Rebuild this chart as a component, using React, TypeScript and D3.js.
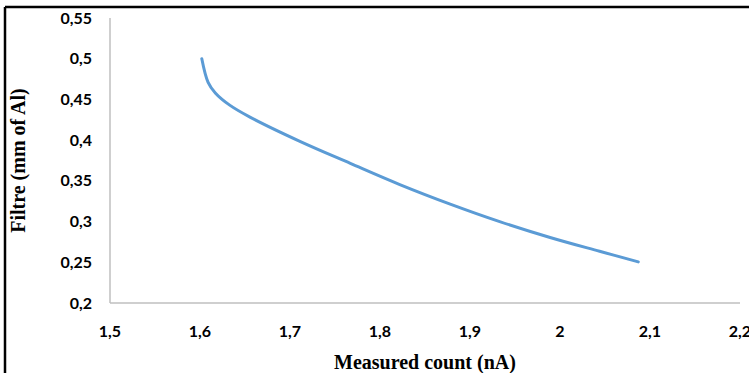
import React, { useEffect, useRef } from 'react'
import * as d3 from 'd3'

const countX = [1.602, 1.609, 1.617, 1.633, 1.656, 1.711, 1.767, 1.822, 1.878, 1.933, 1.989, 2.044, 2.087]
const filtreY = [0.5, 0.471, 0.458, 0.443, 0.428, 0.3985, 0.3715, 0.3455, 0.3215, 0.3, 0.2805, 0.2635, 0.2505]
const xTicks = [1.5, 1.6, 1.7, 1.8, 1.9, 2, 2.1, 2.2]
const yTicks = [0.2, 0.25, 0.3, 0.35, 0.4, 0.45, 0.5, 0.55]

const width = 749, height = 373
const margin = { top: 18, right: 9, bottom: 70, left: 110 }

const fmt = (v: number) => String(+v.toFixed(2)).replace('.', ',')

export default function App() {
  const ref = useRef<SVGSVGElement>(null)

  useEffect(() => {
    const svg = d3.select(ref.current)
    svg.selectAll('*').remove()

    const x = d3.scaleLinear().domain([1.5, 2.2]).range([margin.left, width - margin.right])
    const y = d3.scaleLinear().domain([0.2, 0.55]).range([height - margin.bottom, margin.top])

    // frame (top and left only)
    svg.append('line').attr('x1', 5).attr('x2', width).attr('y1', 7).attr('y2', 7)
      .attr('stroke', '#000').attr('stroke-width', 2.5)
    svg.append('line').attr('x1', 5).attr('x2', 5).attr('y1', 7).attr('y2', height)
      .attr('stroke', '#000').attr('stroke-width', 2.5)

    // axes
    svg.append('line')
      .attr('x1', x(1.5)).attr('x2', x(1.5)).attr('y1', y(0.55)).attr('y2', y(0.2))
      .attr('stroke', '#bfbfbf').attr('stroke-width', 1.5)
    svg.append('line')
      .attr('x1', x(1.5)).attr('x2', x(2.2)).attr('y1', y(0.2)).attr('y2', y(0.2))
      .attr('stroke', '#bfbfbf').attr('stroke-width', 1.5)

    svg.append('g')
      .selectAll('text')
      .data(yTicks)
      .join('text')
      .attr('x', margin.left - 18)
      .attr('y', d => y(d))
      .attr('dy', '0.35em')
      .attr('text-anchor', 'end')
      .style('font-family', 'Lato, "Open Sans", sans-serif')
      .style('font-weight', 'bold')
      .style('font-size', '16px')
      .text(d => fmt(d))

    svg.append('g')
      .selectAll('text')
      .data(xTicks)
      .join('text')
      .attr('x', d => x(d))
      .attr('y', y(0.2) + 34)
      .attr('text-anchor', 'middle')
      .style('font-family', 'Lato, "Open Sans", sans-serif')
      .style('font-weight', 'bold')
      .style('font-size', '16px')
      .text(d => fmt(d))

    const line = d3.line<number>()
      .x((d, i) => x(countX[i]))
      .y(d => y(d))
      .curve(d3.curveCatmullRom)

    svg.append('path')
      .datum(filtreY)
      .attr('d', line)
      .attr('fill', 'none')
      .attr('stroke', '#5b9bd5')
      .attr('stroke-width', 3)
      .attr('stroke-linecap', 'round')

    svg.append('text')
      .attr('x', (x(1.5) + x(2.2)) / 2)
      .attr('y', 369)
      .attr('text-anchor', 'middle')
      .style('font-family', '"Liberation Serif", serif')
      .style('font-weight', 'bold')
      .style('font-size', '20px')
      .text('Measured count (nA)')

    svg.append('text')
      .attr('transform', `translate(25,${(y(0.2) + y(0.55)) / 2}) rotate(-90)`)
      .attr('text-anchor', 'middle')
      .style('font-family', '"Liberation Serif", serif')
      .style('font-weight', 'bold')
      .style('font-size', '20px')
      .text('Filtre (mm of Al)')
  }, [])

  return (
    <div style={{ position: 'absolute', left: 0, top: 0 }}>
      <svg ref={ref} width={width} height={height} style={{ display: 'block', background: '#fff' }} />
    </div>
  )
}
